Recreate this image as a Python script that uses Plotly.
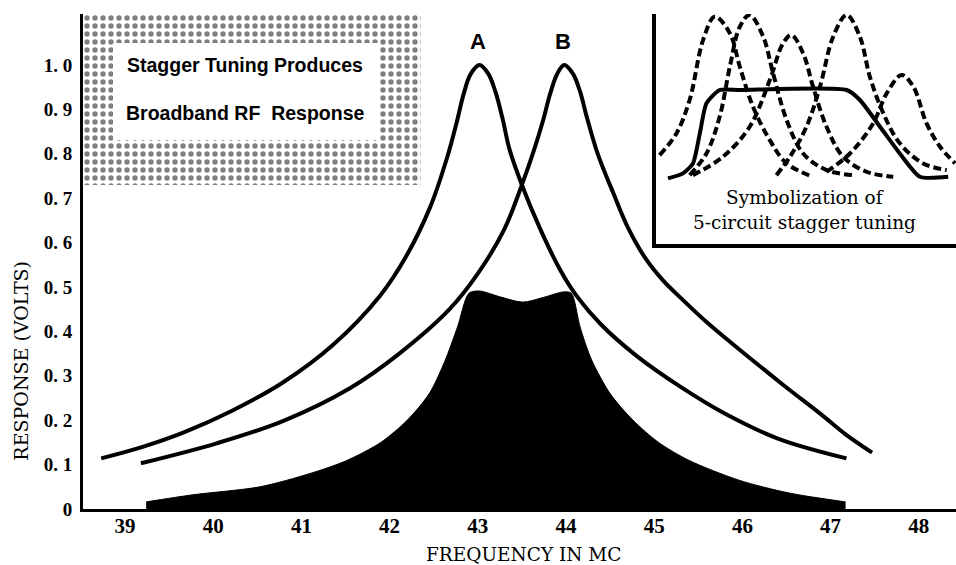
import plotly.graph_objects as go

# ---------------- data ----------------
# Curve A (tuned to 43 MC): frequency (MC) / response (V)
a_freq = [38.73, 39.2, 39.66, 40.22, 40.79, 41.36, 41.89, 42.19, 42.46, 42.65, 42.76, 42.84,
          42.92, 43.02, 43.12, 43.2, 43.28, 43.36, 43.5, 43.71, 43.93, 44.12, 44.4, 44.8,
          45.3, 45.8, 46.41, 47.18]
a_resp = [0.114, 0.14, 0.172, 0.222, 0.285, 0.37, 0.48, 0.57, 0.68, 0.79, 0.87, 0.935,
          0.98, 1.0, 0.98, 0.94, 0.88, 0.81, 0.73, 0.63, 0.54, 0.48, 0.415, 0.345,
          0.275, 0.215, 0.158, 0.114]

# Curve B (tuned to 44 MC)
b_freq = [39.18, 40.04, 40.79, 41.55, 42.11, 42.68, 43.0, 43.3, 43.5, 43.64, 43.74, 43.82,
          43.9, 43.98, 44.08, 44.16, 44.24, 44.36, 44.54, 44.7, 44.9, 45.1, 45.33, 45.6,
          45.9, 46.46, 46.9, 47.17, 47.47]
b_resp = [0.103, 0.148, 0.198, 0.272, 0.35, 0.45, 0.53, 0.63, 0.73, 0.81, 0.875, 0.935,
          0.98, 1.0, 0.98, 0.94, 0.88, 0.80, 0.71, 0.635, 0.565, 0.515, 0.47, 0.42,
          0.37, 0.28, 0.212, 0.168, 0.127]

# Combined (stagger-tuned) response, black area
c_freq = [39.24, 39.77, 40.53, 41.1, 41.5, 41.9, 42.2, 42.45, 42.62, 42.77, 42.9, 43.02,
          43.25, 43.51, 43.75, 43.97, 44.06, 44.16, 44.29, 44.5, 44.76, 45.05, 45.39, 45.96,
          46.53, 47.17]
c_resp = [0.016, 0.032, 0.05, 0.08, 0.108, 0.15, 0.2, 0.26, 0.33, 0.41, 0.486, 0.491,
          0.478, 0.466, 0.477, 0.489, 0.486, 0.41, 0.336, 0.26, 0.20, 0.15, 0.11, 0.065,
          0.036, 0.016]

x_ticks = [39, 40, 41, 42, 43, 44, 45, 46, 47, 48]
y_ticks = [0, 0.1, 0.2, 0.3, 0.4, 0.5, 0.6, 0.7, 0.8, 0.9, 1.0]
y_tick_text = ["0", "0. 1", "0. 2", "0. 3", "0. 4", "0. 5", "0. 6", "0. 7", "0. 8", "0. 9", "1. 0"]

# Inset: symbolic 5-circuit stagger tuning (arbitrary units)
ins1_u = [0.13, 0.69, 1.13, 1.58, 1.97, 2.47, 2.8, 3.24, 3.8, 4.36, 5.24]
ins1_v = [0.141, 0.274, 0.479, 0.847, 0.99, 0.888, 0.683, 0.438, 0.233, 0.09, 0.008]
ins2_u = [1.13, 1.69, 2.13, 2.47, 2.8, 3.13, 3.58, 3.91, 4.36, 4.91, 5.69, 6.58]
ins2_v = [0.018, 0.151, 0.376, 0.683, 0.928, 1.0, 0.867, 0.642, 0.356, 0.151, 0.049, 0.018]
ins3_u = [1.24, 2.24, 3.13, 3.8, 4.24, 4.52, 4.91, 5.24, 5.69, 6.24, 7.02, 7.91]
ins3_v = [0.018, 0.131, 0.315, 0.601, 0.826, 0.877, 0.765, 0.56, 0.315, 0.131, 0.039, 0.008]
ins4_u = [4.02, 4.47, 5.02, 5.47, 5.91, 6.36, 6.8, 7.13, 7.58, 8.13, 8.91, 9.69]
ins4_v = [0.018, 0.131, 0.315, 0.56, 0.867, 1.0, 0.867, 0.622, 0.397, 0.213, 0.09, 0.049]
ins5_u = [5.69, 6.47, 7.24, 7.69, 8.19, 8.58, 9.02, 9.47, 9.97]
ins5_v = [0.039, 0.151, 0.335, 0.519, 0.632, 0.56, 0.335, 0.192, 0.09]
insS_u = [0.41, 0.91, 1.24, 1.47, 1.69, 2.13, 2.8, 6.36, 6.8, 7.47, 8.13, 8.8, 9.74]
insS_v = [-0.002, 0.029, 0.09, 0.274, 0.458, 0.54, 0.54, 0.54, 0.479, 0.315, 0.151, 0.008, 0.008]

# ---------------- figure ----------------
X_RANGE = [38.524, 48.422]
Y_RANGE = [0, 1.115]
SERIF = "Liberation Serif"
TITLE_SERIF = "DejaVu Serif"
HAND = "Liberation Sans"

fig = go.Figure()

# dotted title box (decoration)
fig.add_trace(go.Scatter(
    x=[X_RANGE[0], 42.356, 42.356, X_RANGE[0], X_RANGE[0]],
    y=[Y_RANGE[1], Y_RANGE[1], 0.730, 0.730, Y_RANGE[1]],
    mode="lines", fill="toself", fillcolor="white",
    fillpattern=dict(shape=".", fgcolor="black", bgcolor="white", size=8, solidity=0.36),
    line=dict(width=0, color="rgba(0,0,0,0)"), hoverinfo="skip", showlegend=False))

fig.add_trace(go.Scatter(
    x=c_freq, y=c_resp, mode="lines", fill="tozeroy", fillcolor="black",
    line=dict(color="black", width=1, shape="spline", smoothing=0.8),
    hoverinfo="skip", showlegend=False))

for fx, fy in [(a_freq, a_resp), (b_freq, b_resp)]:
    fig.add_trace(go.Scatter(
        x=fx, y=fy, mode="lines",
        line=dict(color="black", width=4, shape="spline", smoothing=1.0),
        hoverinfo="skip", showlegend=False))

dash = "8px,4px"
for u, v in [(ins1_u, ins1_v), (ins2_u, ins2_v), (ins3_u, ins3_v), (ins4_u, ins4_v), (ins5_u, ins5_v)]:
    fig.add_trace(go.Scatter(
        x=u, y=v, xaxis="x2", yaxis="y2", mode="lines",
        line=dict(color="black", width=4, dash=dash, shape="spline"),
        hoverinfo="skip", showlegend=False))
fig.add_trace(go.Scatter(
    x=insS_u, y=insS_v, xaxis="x2", yaxis="y2", mode="lines",
    line=dict(color="black", width=4, shape="spline", smoothing=0.6),
    hoverinfo="skip", showlegend=False))

fig.update_layout(
    width=956, height=565,
    margin=dict(l=83, r=0, t=14, b=56, autoexpand=False),
    paper_bgcolor="white", plot_bgcolor="white",
    showlegend=False,
    xaxis=dict(range=X_RANGE, showgrid=False, zeroline=False, showline=True,
               linecolor="black", linewidth=3, ticks="", tickvals=x_ticks,
               ticktext=[str(t) for t in x_ticks], automargin=False,
               tickfont=dict(family=SERIF, size=21, color="black", weight="bold"),
               ticklabelstandoff=-4),
    yaxis=dict(range=Y_RANGE, showgrid=False, zeroline=False, showline=True,
               linecolor="black", linewidth=3, ticks="", tickvals=y_ticks,
               ticktext=y_tick_text, automargin=False,
               tickfont=dict(family=SERIF, size=19, color="black", weight="bold"),
               ticklabelstandoff=4),
    xaxis2=dict(domain=[0.656, 1.0], anchor="y2", range=[0, 10], showgrid=False,
                zeroline=False, showline=True, linecolor="black", linewidth=4,
                showticklabels=False, ticks=""),
    yaxis2=dict(domain=[0.535, 1.0], anchor="x2", range=[-0.405, 1.006], showgrid=False,
                zeroline=False, showline=True, linecolor="black", linewidth=4,
                showticklabels=False, ticks=""),
    shapes=[dict(type="rect", xref="x", yref="y", x0=38.864, x1=41.88, y0=0.831, y1=1.0495,
                 fillcolor="white", line=dict(width=0), layer="above")],
)

ann = [
    dict(text="Stagger Tuning Produces", x=40.36, y=1.0, xref="x", yref="y",
         font=dict(family=HAND, size=19.5, color="black", weight="bold")),
    dict(text="Broadband RF  Response", x=40.37, y=0.892, xref="x", yref="y",
         font=dict(family=HAND, size=19.5, color="black", weight="bold")),
    dict(text="A", x=43.0, y=1.052, xref="x", yref="y",
         font=dict(family=HAND, size=22, color="black", weight="bold")),
    dict(text="B", x=43.97, y=1.052, xref="x", yref="y",
         font=dict(family=HAND, size=22, color="black", weight="bold")),
    dict(text="Symbolization of", x=4.97, y=-0.117, xref="x2", yref="y2",
         font=dict(family=TITLE_SERIF, size=18.5, color="black")),
    dict(text="5-circuit stagger tuning", x=4.97, y=-0.27, xref="x2", yref="y2",
         font=dict(family=TITLE_SERIF, size=18.5, color="black")),
    dict(text="FREQUENCY IN MC", x=0.505, y=-0.092, xref="paper", yref="paper",
         font=dict(family=TITLE_SERIF, size=18.5, color="black")),
    dict(text="RESPONSE (VOLTS)", x=-0.072, y=0.3, xref="paper", yref="paper",
         textangle=-90, font=dict(family=TITLE_SERIF, size=19, color="black")),
]
for a in ann:
    a.update(showarrow=False, xanchor="center", yanchor="middle")
fig.update_layout(annotations=ann)

fig.write_html("out.html", config={"displayModeBar": False},
               post_script="document.body.style.margin='0';document.body.style.padding='0';")
